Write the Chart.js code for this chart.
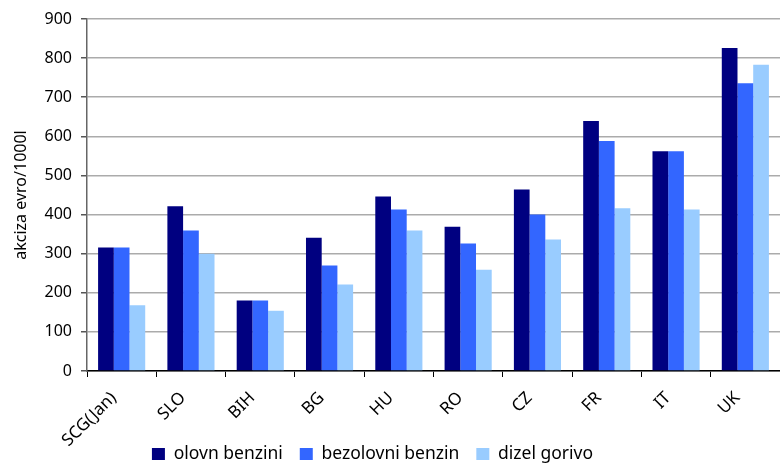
<!DOCTYPE html>
<html>
<head>
<meta charset="utf-8">
<script src="https://cdn.jsdelivr.net/npm/chart.js@4.4.1/dist/chart.umd.min.js"></script>
<style>
  html, body { margin: 0; padding: 0; background: #ffffff; }
  #wrap { width: 780px; height: 465px; position: relative; }
</style>
</head>
<body>
<div id="wrap"><canvas id="chart"></canvas></div>
<script>
// Excise duty per 1000 litres of fuel, by country
const countries = ['SCG(Jan)', 'SLO', 'BIH', 'BG', 'HU', 'RO', 'CZ', 'FR', 'IT', 'UK'];
const leadedPetrol   = [316, 421, 180, 341, 446, 369, 464, 639, 562, 826];
const unleadedPetrol = [316, 359, 180, 270, 413, 326, 400, 588, 562, 736];
const dieselFuel     = [168, 300, 154, 221, 359, 259, 336, 416, 413, 783];
const seriesNames = ['olovn benzini', 'bezolovni benzin', 'dizel gorivo'];
const yTicks = [0, 100, 200, 300, 400, 500, 600, 700, 800, 900];

const FONT = "'Noto Sans', 'DejaVu Sans', sans-serif";
const LEGEND_FONT = 17.5;
const LEGEND_PAD = 17;
const LEGEND_H = 19;       // space the legend takes below the x axis labels
const X_AXIS_H = 75;       // room for the slanted country names
const LEGEND_ROW = 454;    // vertical centre of the legend items
const LEGEND_DX = -19;     // legend sits a little left of centre

// Keeps the legend compact in the layout and places it at a fixed row
const legendPlace = {
  id: 'legendPlace',
  afterInit(chart) {
    const lg = chart.legend;
    if (!lg) return;
    const fit = lg.fit;
    lg.fit = function () {
      fit.call(this);
      this._drawHeight = this.height;
      this.height = LEGEND_H;
    };
  },
  afterLayout(chart) {
    const lg = chart.legend;
    if (!lg) return;
    lg.top = LEGEND_ROW - LEGEND_PAD - LEGEND_FONT / 2;
    lg.bottom = lg.top + (lg._drawHeight || 60);
    lg.left += LEGEND_DX; lg.right += LEGEND_DX;
  }
};

new Chart(document.getElementById('chart'), {
  type: 'bar',
  data: {
    labels: countries,
    datasets: [
      { label: seriesNames[0], data: leadedPetrol,   backgroundColor: '#000080' },
      { label: seriesNames[1], data: unleadedPetrol, backgroundColor: '#3366FF' },
      { label: seriesNames[2], data: dieselFuel,     backgroundColor: '#99CCFF' }
    ]
  },
  plugins: [legendPlace],
  options: {
    responsive: true,
    maintainAspectRatio: false,
    animation: false,
    layout: { padding: { top: 19, right: -3, bottom: 0, left: 0 } },
    datasets: {
      bar: { categoryPercentage: 0.68, barPercentage: 1.0, borderWidth: 0 }
    },
    plugins: {
      legend: {
        position: 'bottom',
        align: 'center',
        labels: {
          boxWidth: 13,
          boxHeight: 12,
          padding: LEGEND_PAD,
          color: '#000',
          font: { family: FONT, size: LEGEND_FONT }
        }
      },
      tooltip: { enabled: false }
    },
    scales: {
      x: {
        grid: {
          offset: true,
          drawOnChartArea: false,
          drawTicks: true,
          tickLength: 6,
          tickColor: '#000'
        },
        border: { display: true, color: '#000', width: 1.5 },
        ticks: {
          minRotation: 45,
          maxRotation: 45,
          padding: 11,
          labelOffset: -8,
          color: '#000',
          font: { family: FONT, size: 17 }
        },
        afterFit(scale) { scale.height = X_AXIS_H; }
      },
      y: {
        min: 0,
        max: 900,
        afterBuildTicks(scale) { scale.ticks = yTicks.map(v => ({ value: v })); },
        grid: {
          color: '#ababab',
          lineWidth: 1.5,
          drawTicks: true,
          tickLength: 6,
          tickColor: '#555'
        },
        border: { display: true, color: '#666', width: 1.5 },
        ticks: {
          padding: 9,
          color: '#000',
          font: { family: FONT, size: 16 }
        },
        title: {
          display: true,
          text: 'akciza evro/1000l',
          color: '#000',
          padding: { top: 12, bottom: 4 },
          font: { family: FONT, size: 16 }
        },
        afterFit(scale) { scale.width = 87; }
      }
    }
  }
});
</script>
</body>
</html>
